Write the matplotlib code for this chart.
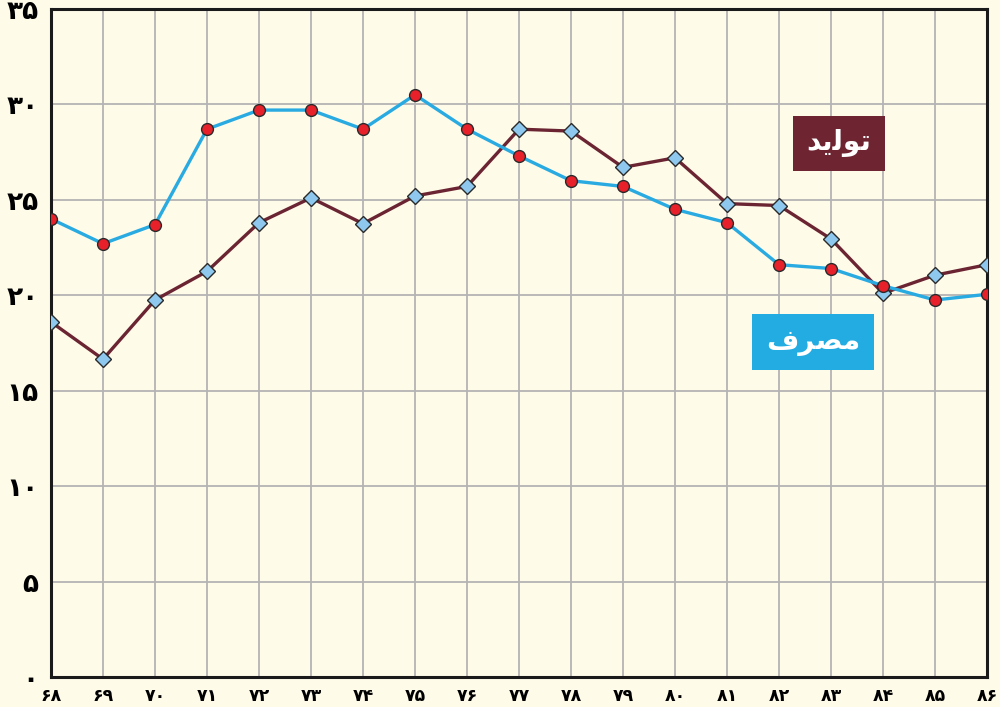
import matplotlib.pyplot as plt

years = list(range(68, 87))
fa_digits = str.maketrans("0123456789", "۰۱۲۳۴۵۶۷۸۹")

# مصرف (آبی، دایره قرمز)
masraf = [24.0, 22.7, 23.7, 28.7, 29.7, 29.7, 28.7, 30.5, 28.7, 27.3, 26.0,
          25.7, 24.5, 23.8, 21.6, 21.4, 20.5, 19.75, 20.05]
# تولید (زرشکی، لوزی آبی)
tolid = [18.6, 16.65, 19.75, 21.25, 23.8, 25.1, 23.75, 25.2, 25.7, 28.7, 28.6,
         26.7, 27.2, 24.8, 24.7, 22.95, 20.1, 21.05, 21.6]

yticks = [0, 5, 10, 15, 20, 25, 30, 35]

# shaped Arabic text in visual order (matplotlib has no bidi shaping)
label_tolid = "\uFEAA\uFBFE\uFEDF\uFEEE\uFE97"
label_masraf = "\uFED1\uFEAE\uFEBC\uFEE3"

bg = "#FEFBE9"
fig = plt.figure(figsize=(10, 7.07), dpi=100, facecolor=bg)
ax = fig.add_axes([0.051, 0.0424, 0.936, 0.945])
ax.set_facecolor(bg)

ax.plot(years, tolid, color="#6B2532", lw=2.4, zorder=3,
        marker="D", ms=8.5, mfc="#8EC8EE", mec="#2a2a2a", mew=1.0)
ax.plot(years, masraf, color="#29ABE2", lw=2.4, zorder=4,
        marker="o", ms=8.5, mfc="#E8202A", mec="#2a2a2a", mew=1.0)

ax.set_xlim(68, 86)
ax.set_ylim(0, 35)
ax.set_xticks(years)
ax.set_xticklabels([str(y).translate(fa_digits) for y in years],
                   fontsize=12.5, fontweight="bold", family="DejaVu Sans")
ax.set_yticks(yticks)
ax.set_yticklabels([str(v).translate(fa_digits) for v in yticks],
                   fontsize=19, fontweight="bold", family="DejaVu Sans")
ax.tick_params(length=0, pad=7)
ax.tick_params(axis="y", pad=9)
ax.grid(True, color="#B4B4B4", lw=1.3)
ax.set_axisbelow(True)
for s in ax.spines.values():
    s.set_linewidth(2.2)
    s.set_color("#1a1a1a")

ax.text(83.15, 27.95, label_tolid, fontsize=20, fontweight="bold", color="white",
        ha="center", va="center", family="DejaVu Sans", zorder=6,
        bbox=dict(boxstyle="square,pad=0.5", fc="#6E2431", ec="none"))
ax.text(82.65, 17.55, label_masraf, fontsize=20, fontweight="bold", color="white",
        ha="center", va="center", family="DejaVu Sans", zorder=6,
        bbox=dict(boxstyle="square,pad=0.5", fc="#22ACE2", ec="none"))

fig.savefig("out.png", dpi=100, facecolor=bg)
